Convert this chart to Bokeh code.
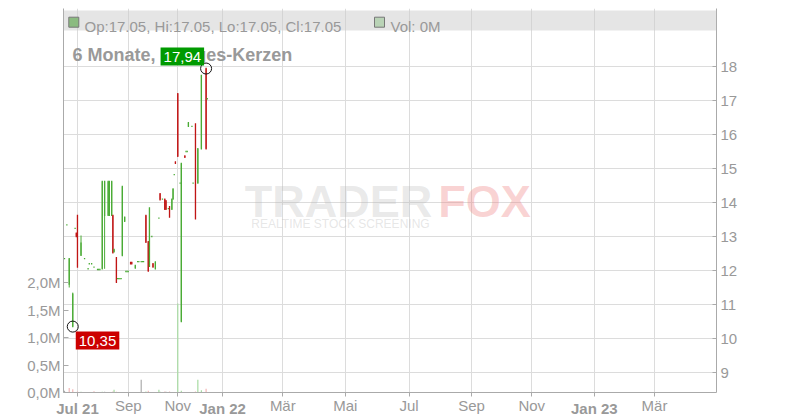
from bokeh.plotting import figure
from bokeh.models import (Range1d, LinearAxis, FixedTicker, CustomJSTickFormatter,
                          Label, BoxAnnotation, ColumnDataSource)
from bokeh.embed import file_html
from bokeh.resources import INLINE

# ---------------- data ----------------
day = [0, 2, 4, 7, 9, 10, 11, 14, 17, 20, 21, 23, 25, 28, 29, 30, 32, 34, 37, 38,
       40, 41, 42, 44, 45, 46, 47, 48, 49, 51, 52, 53, 54, 56, 57, 60, 62, 63, 65, 66,
       67, 69, 71, 72, 74, 75, 77, 80, 81, 83, 85, 86, 88, 89, 91, 92, 93, 94, 96, 98,
       99, 102, 103, 104, 105, 108, 109, 111, 113, 116, 120, 121]
op = [12.35, 13.34, 11.60, 10.35, 13.24, 13.10, 13.62, 12.45, 12.35, 12.05, 12.20, 12.20, 12.10, 12.03, 12.03, 12.03, 12.05, 13.62, 13.62, 13.62,
      13.62, 13.62, 12.55, 12.38, 11.76, 11.76, 11.76, 11.76, 12.44, 13.45, 11.97, 11.97, 11.97, 12.24, 12.24, 12.07, 12.26, 12.26, 12.26, 12.26,
      12.26, 13.62, 12.85, 12.12, 13.00, 12.20, 12.05, 13.54, 14.26, 14.10, 14.10, 14.05, 13.82, 13.88, 13.80, 14.10, 14.82, 15.19, 17.20, 14.57,
      10.50, 15.37, 15.50, 15.50, 16.24, 16.24, 14.57, 16.31, 14.57, 15.58, 17.94, 17.05]
hi = [12.35, 13.34, 12.35, 11.35, 13.24, 13.10, 13.62, 13.03, 12.35, 12.05, 12.20, 12.20, 12.10, 12.03, 12.03, 12.03, 14.62, 14.62, 14.62, 14.62,
      14.62, 13.62, 12.62, 12.38, 11.76, 11.76, 11.76, 11.76, 14.47, 13.57, 11.97, 11.97, 11.97, 12.24, 12.24, 12.15, 12.26, 12.26, 12.26, 12.26,
      12.26, 13.62, 12.85, 13.84, 13.00, 12.20, 12.25, 13.54, 14.26, 14.10, 14.10, 14.05, 13.82, 13.88, 14.10, 14.40, 14.82, 15.19, 17.20, 14.57,
      15.15, 15.37, 15.50, 15.50, 16.35, 16.24, 14.57, 16.31, 15.58, 17.74, 17.94, 17.05]
lo = [12.35, 13.34, 11.50, 10.35, 13.24, 13.00, 12.10, 12.44, 12.35, 12.05, 12.20, 12.20, 12.10, 12.03, 12.03, 12.03, 12.05, 12.05, 13.62, 13.62,
      13.62, 12.52, 12.55, 11.65, 11.76, 11.76, 11.76, 11.76, 12.44, 13.45, 11.97, 11.97, 11.97, 12.20, 12.20, 12.07, 12.26, 12.26, 12.26, 12.26,
      12.26, 12.83, 11.98, 12.12, 13.00, 12.10, 12.05, 13.54, 14.08, 14.10, 13.80, 13.80, 13.82, 13.57, 13.80, 14.10, 14.82, 15.15, 15.36, 14.57,
      10.50, 15.33, 15.50, 15.50, 16.24, 16.24, 14.57, 13.52, 14.57, 15.58, 15.58, 17.05]
cl = [12.35, 13.34, 12.35, 11.30, 13.24, 13.00, 12.10, 12.80, 12.35, 12.05, 12.20, 12.20, 12.10, 12.03, 12.03, 12.03, 14.62, 14.62, 14.62, 14.62,
      14.62, 12.52, 12.62, 11.65, 11.76, 11.76, 11.76, 11.76, 14.47, 13.57, 11.97, 11.97, 11.97, 12.20, 12.20, 12.15, 12.26, 12.26, 12.26, 12.26,
      12.26, 12.83, 11.98, 13.84, 13.00, 12.10, 12.25, 13.54, 14.08, 14.10, 13.80, 13.80, 13.82, 13.57, 14.10, 14.40, 14.82, 15.15, 15.36, 14.57,
      15.15, 15.33, 15.50, 15.50, 16.35, 16.24, 14.57, 13.52, 15.58, 17.74, 15.58, 17.05]
vol = [30000, 10000, 80000, 60000, 5000, 10000, 20000, 15000, 10000, 8000, 6000, 6000, 25000, 5000, 5000, 5000, 15000, 12000, 10000, 10000,
       8000, 20000, 50000, 15000, 5000, 5000, 5000, 5000, 10000, 5000, 5000, 5000, 5000, 8000, 8000, 6000, 5000, 5000, 230000, 5000,
       5000, 20000, 30000, 10000, 5000, 8000, 10000, 50000, 15000, 10000, 20000, 15000, 10000, 20000, 10000, 10000, 5000, 5000, 1620000, 5000,
       30000, 5000, 5000, 5000, 10000, 5000, 5000, 20000, 230000, 40000, 70000, 0]

price_ticks = [9, 10, 11, 12, 13, 14, 15, 16, 17, 18]
vol_ticks = [0, 500000, 1000000, 1500000, 2000000]
x_tick_pos = [11, 54, 96, 134, 185, 238, 292, 345, 396, 449, 500]
x_tick_lab = ["Jul 21", "Sep", "Nov", "Jan 22", "Mär", "Mai", "Jul", "Sep", "Nov", "Jan 23", "Mär"]
x_tick_bold = [True, False, False, True, False, False, False, False, False, True, False]

title_text = "6 Monate, 1 Tages-Kerzen"

# ---------------- styling / layout ----------------
GREEN = "#4aab35"
RED = "#c01515"
VOL_UP = "#a6dba0"
VOL_DN = "#f2b5b5"
VOL_EQ = "#aaaaaa"
TXT = "#999999"
FONT = "Liberation Sans"

def px_x(px):  # page x pixel -> day index
    return (px - 64) / 1.18

def px_y(py):  # page y pixel -> price
    return 18 - (py - 66) / 34.0

VOL_TOP = (392 - 8) / 55.0 * 1e6

n = len(day)
up = [cl[i] >= op[i] for i in range(n)]
ccol = [GREEN if u else RED for u in up]
vcol = []
for i in range(n):
    prev = cl[i - 1] if i > 0 else op[i]
    vcol.append(VOL_UP if cl[i] > prev else (VOL_DN if cl[i] < prev else VOL_EQ))
btop = [max(op[i], cl[i]) + 0.02 for i in range(n)]
bbot = [min(op[i], cl[i]) - 0.02 for i in range(n)]

src = ColumnDataSource(dict(day=day, hi=hi, lo=lo, btop=btop, bbot=bbot,
                            ccol=ccol, vol=vol, vcol=vcol))

p = figure(width=800, height=420, frame_width=653, frame_height=384,
           min_border_left=63, min_border_right=84, min_border_top=8, min_border_bottom=28,
           x_range=Range1d(px_x(63), px_x(716)), y_range=Range1d(px_y(392), px_y(8)),
           y_axis_location="right", output_backend="svg", toolbar_location=None,
           background_fill_color="white", border_fill_color="white")
p.outline_line_color = None
p.extra_y_ranges = {"vol": Range1d(0, VOL_TOP)}

# grids
p.xgrid.ticker = FixedTicker(ticks=x_tick_pos)
p.ygrid.ticker = FixedTicker(ticks=price_ticks)
p.grid.grid_line_color = "#dcdcdc"
p.grid.grid_line_width = 1

# price axis (right)
ya = p.yaxis[0]
ya.ticker = FixedTicker(ticks=price_ticks)
ya.major_tick_in = 4
ya.major_tick_out = 0
ya.major_label_standoff = 4

# volume axis (left)
va = LinearAxis(y_range_name="vol", ticker=FixedTicker(ticks=vol_ticks),
                formatter=CustomJSTickFormatter(code="return (tick/1e6).toFixed(1).replace('.', ',') + 'M';"))
va.major_tick_in = 5
va.major_tick_out = 0
va.major_label_standoff = 3
p.add_layout(va, "left")

# x axis: normal labels
xa = p.xaxis[0]
xa.ticker = FixedTicker(ticks=x_tick_pos)
xa.major_label_overrides = {pos: ("" if b else lab) for pos, lab, b in zip(x_tick_pos, x_tick_lab, x_tick_bold)}
xa.major_tick_in = 0
xa.major_tick_out = 4
xa.major_label_standoff = 0

# x axis: bold year labels, pulled up into the same row
bold_pos = [pos for pos, b in zip(x_tick_pos, x_tick_bold) if b]
xb = LinearAxis(ticker=FixedTicker(ticks=bold_pos),
                major_label_overrides={pos: lab for pos, lab, b in zip(x_tick_pos, x_tick_lab, x_tick_bold) if b})
xb.axis_line_color = None
xb.major_tick_line_color = None
xb.major_tick_in = 0
xb.major_tick_out = 0
xb.major_label_standoff = -17
xb.major_label_text_font_style = "bold"
p.add_layout(xb, "below")

for ax in [xa, ya, va]:
    ax.axis_line_color = "#aaaaaa"
    ax.major_tick_line_color = "#aaaaaa"
for ax in [xa, xb, ya, va]:
    ax.minor_tick_line_color = None
    ax.major_label_text_color = TXT
    ax.major_label_text_font = FONT
    ax.major_label_text_font_size = "15px"

# top band
p.add_layout(BoxAnnotation(bottom=px_y(30), top=px_y(10), fill_color="#cccccc",
                           fill_alpha=0.5, line_alpha=0))

# watermark
p.add_layout(Label(x=px_x(338), y=px_y(201), text="TRADER", text_align="center",
                   text_baseline="alphabetic", text_font=FONT, text_font_style="bold",
                   text_font_size="45px", text_color="#b5b5b5", text_alpha=0.3))
p.add_layout(Label(x=px_x(484), y=px_y(201), text="FOX", text_align="center",
                   text_baseline="alphabetic", text_font=FONT, text_font_style="bold",
                   text_font_size="45px", text_color="#f08080", text_alpha=0.35))
p.add_layout(Label(x=px_x(340), y=px_y(223), text="REALTIME STOCK SCREENING", text_align="center",
                   text_baseline="alphabetic", text_font=FONT,
                   text_font_size="12px", text_color="#c0c0c0", text_alpha=0.4))

# title
p.add_layout(Label(x=px_x(72), y=px_y(54.5), text=title_text, text_baseline="alphabetic",
                   text_font=FONT, text_font_style="bold", text_font_size="18px", text_color=TXT))

# volume bars
p.vbar(x="day", top="vol", bottom=0, width=1.0, fill_color="vcol", line_color=None,
       y_range_name="vol", source=src)
# candles
p.segment(x0="day", y0="lo", x1="day", y1="hi", line_color="ccol", line_width=1, source=src)
p.vbar(x="day", top="btop", bottom="bbot", width=1.1, fill_color="ccol", line_color=None, source=src)

# legend row
last = n - 1
leg = "Op:%.2f, Hi:%.2f, Lo:%.2f, Cl:%.2f" % (op[last], hi[last], lo[last], cl[last])
p.scatter([px_x(73.3), px_x(379)], [px_y(21.7), px_y(21.7)], marker="square", size=10,
          fill_color=[GREEN, VOL_UP], line_color="#222222", line_width=1)
p.add_layout(Label(x=px_x(84), y=px_y(25.8), text=leg, text_baseline="alphabetic",
                   text_font=FONT, text_font_size="15px", text_color=TXT))
p.add_layout(Label(x=px_x(390), y=px_y(25.8), text="Vol: %dM" % round(vol[last] / 1e6),
                   text_baseline="alphabetic", text_font=FONT, text_font_size="15px", text_color=TXT))

# max / min markers
imax = max(range(n), key=lambda i: hi[i])
imin = min(range(n), key=lambda i: lo[i])
p.scatter([day[imax], day[imin]], [hi[imax], lo[imin]], marker="circle", size=11,
          fill_color=None, line_color="#111111", line_width=1)
p.add_layout(Label(x=day[imax], y=hi[imax], text=("%.2f" % hi[imax]).replace(".", ","),
                   x_offset=-2, y_offset=3, text_align="right", text_baseline="bottom",
                   text_font=FONT, text_font_size="15px", text_color="white",
                   background_fill_color="#009a00", padding=(3, 4)))
p.add_layout(Label(x=day[imin], y=lo[imin], text=("%.2f" % lo[imin]).replace(".", ","),
                   x_offset=3, y_offset=-5, text_align="left", text_baseline="top",
                   text_font=FONT, text_font_size="15px", text_color="white",
                   background_fill_color="#cc0000", padding=(3, 4)))

open("out.html", "w").write(file_html(p, INLINE))
